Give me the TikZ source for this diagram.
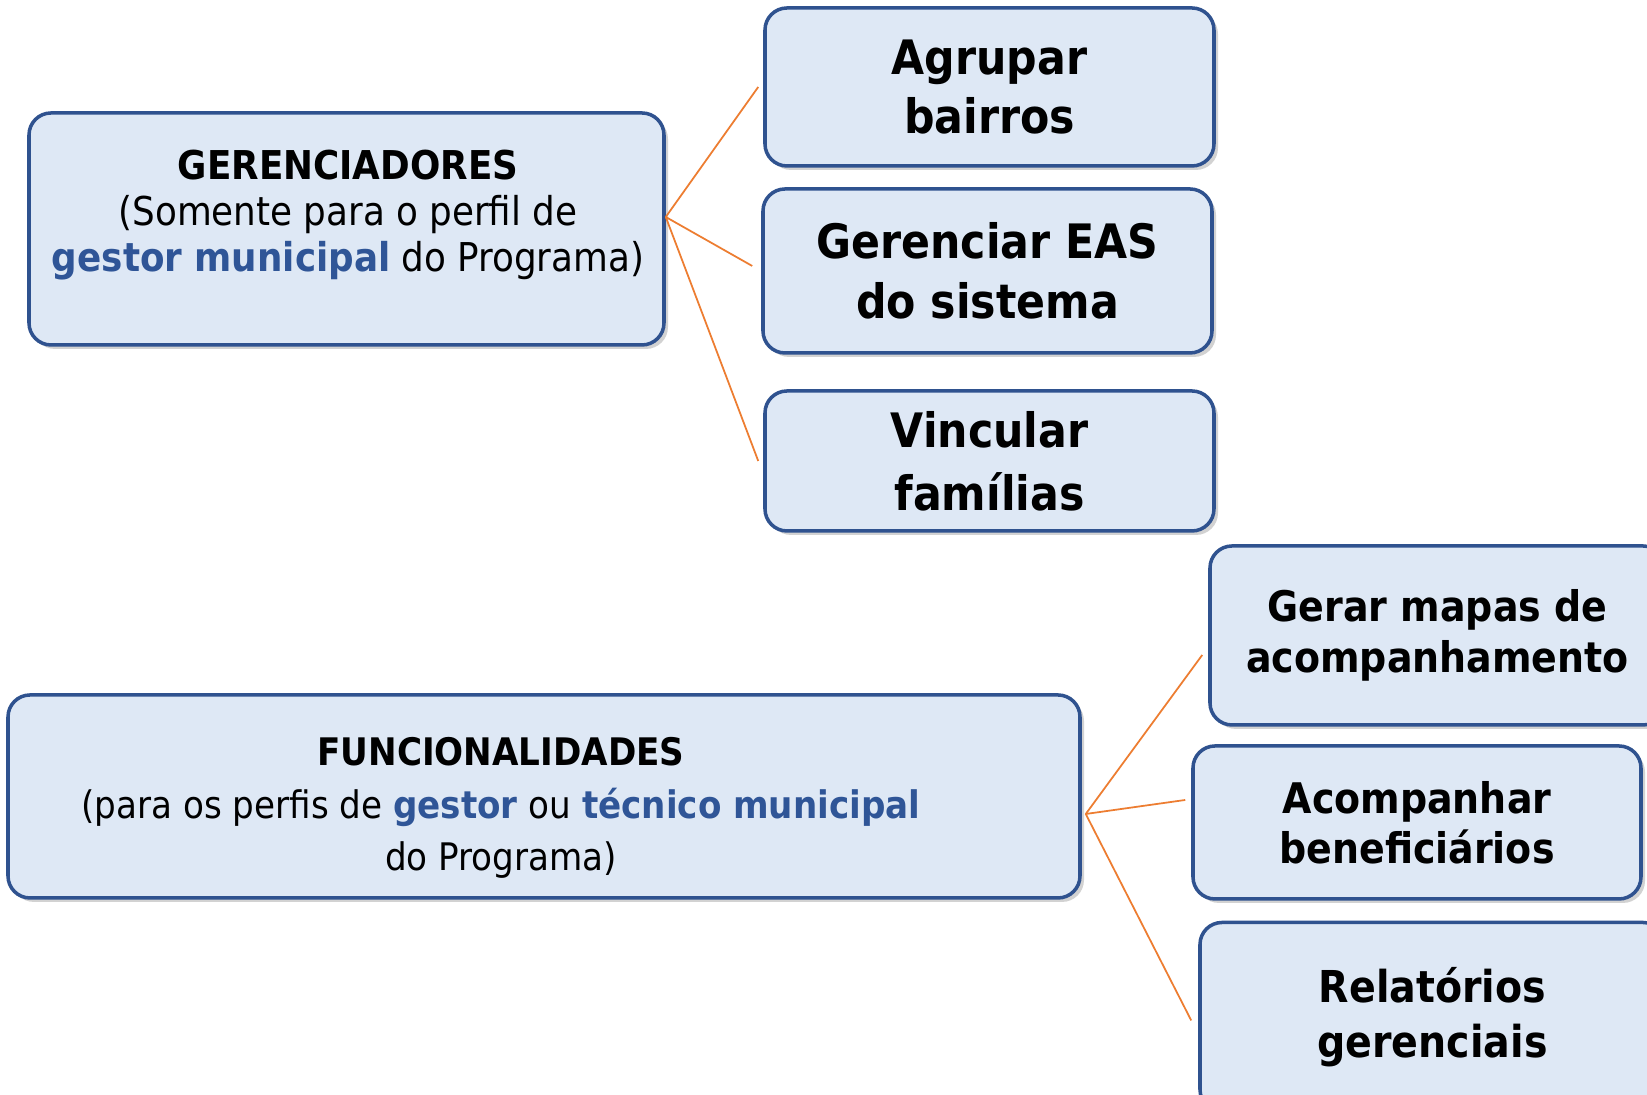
\documentclass[tikz,border=0pt]{standalone}
\usepackage{fontspec}
\setmainfont{DejaVu Sans Condensed}
\usetikzlibrary{positioning,shadows}

\definecolor{boxline}{HTML}{2F528F}
\definecolor{boxfill}{HTML}{DEE8F5}
\definecolor{boxblue}{HTML}{2F5597}
\definecolor{linkorange}{HTML}{ED7D31}

\newcommand{\blue}[1]{\textcolor{boxblue}{\textbf{#1}}}

\tikzset{
	menubox/.style={draw=boxline, fill=boxfill, line width=1pt, rounded corners=0.22cm,
		drop shadow={shadow xshift=0.04cm, shadow yshift=-0.04cm, opacity=0.35},
		inner sep=0pt, align=center},
	bigtxt/.style={font=\bfseries\fontsize{13.5}{17}\selectfont},
	midtxt/.style={font=\bfseries\fontsize{12}{14.3}\selectfont},
	link/.style={draw=linkorange, line width=0.5pt},
}

\begin{document}
\begin{tikzpicture}
		\clip (0,0) rectangle (16.47,10.95);
		\fill[white] (0,0) rectangle (16.47,10.95);
		%
		\node[menubox, minimum width=6.35cm, minimum height=2.32cm] (ger) at (3.465,8.66) {};
		\node[align=center, font=\fontsize{11.3}{13.1}\selectfont] (gertext) at (3.48,8.80)
			{\textbf{GERENCIADORES}\\(Somente para o perfil de\\\blue{gestor municipal} do Programa)};
		\node[menubox, bigtxt, minimum width=4.49cm, minimum height=1.58cm] (agr) at (9.895,10.08) {Agrupar\\bairros};
		\node[menubox, bigtxt, minimum width=4.49cm, minimum height=1.64cm] (eas) at (9.875,8.24) {Gerenciar EAS\\do sistema};
		\node[menubox, bigtxt, font=\bfseries\fontsize{13.5}{18}\selectfont, minimum width=4.49cm, minimum height=1.40cm] (vin) at (9.895,6.34) {Vincular\\famílias};
		%
		\node[menubox, minimum width=10.72cm, minimum height=2.03cm] (fun) at (5.44,2.985) {};
		\node[align=center, font=\fontsize{10.8}{15}\selectfont] (funtext) at (5.01,2.87)
			{\textbf{FUNCIONALIDADES}\\(para os perfis de \blue{gestor} ou \blue{técnico municipal}\\do Programa)};
		\node[menubox, midtxt, minimum width=4.55cm, minimum height=1.79cm] (map) at (14.375,4.595) {Gerar mapas de\\acompanhamento};
		\node[menubox, midtxt, minimum width=4.48cm, minimum height=1.53cm] (aco) at (14.17,2.725) {Acompanhar\\beneficiários};
		\node[menubox, midtxt, font=\bfseries\fontsize{12.5}{15.5}\selectfont, minimum width=4.65cm, minimum height=1.89cm] (rel) at (14.325,0.78) {Relatórios\\gerenciais};
		%
		\coordinate (gerhub) at ([yshift=0.12cm]ger.east);
		\coordinate (funhub) at ([xshift=0.04cm,yshift=-0.175cm]fun.east);
		\draw[link] (gerhub) -- ([xshift=-0.05cm]agr.west);
		\draw[link] (gerhub) -- ([xshift=-0.09cm,yshift=0.05cm]eas.west);
		\draw[link] (gerhub) -- ([xshift=-0.05cm]vin.west);
		\draw[link] (funhub) -- ([xshift=-0.06cm,yshift=-0.195cm]map.west);
		\draw[link] (funhub) -- ([xshift=-0.06cm,yshift=0.225cm]aco.west);
		\draw[link] (funhub) -- ([xshift=-0.07cm,yshift=-0.035cm]rel.west);
	\end{tikzpicture}
\end{document}
